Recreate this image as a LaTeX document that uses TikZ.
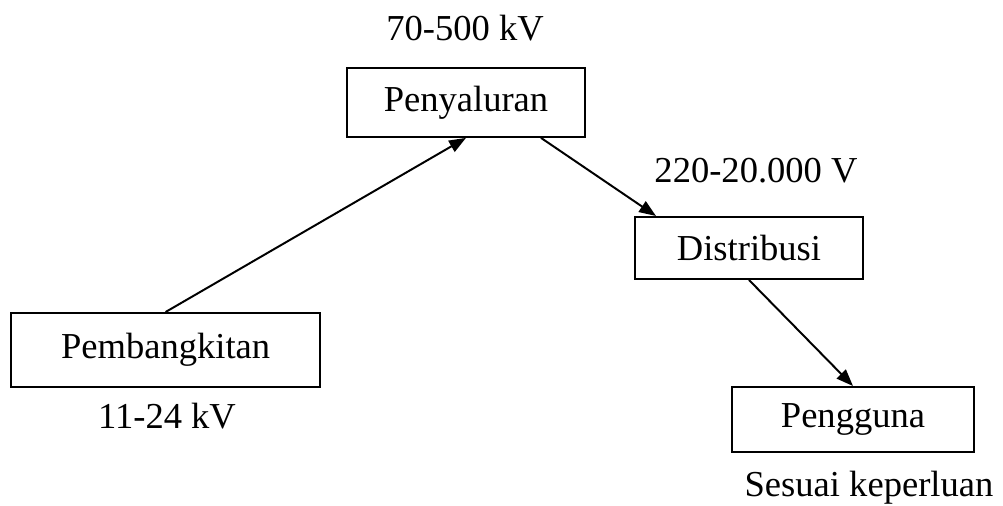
\documentclass[tikz,border=0pt]{standalone}
\usepackage{fontspec}
\setmainfont{Liberation Serif}
\usetikzlibrary{arrows.meta}

\tikzset{
    stage/.style={draw, line width=1.4pt, minimum width=#1, inner sep=0pt, font=\fontsize{26}{30}\selectfont},
    volt/.style={anchor=base, font=\fontsize{26}{30}\selectfont},
    flow/.style={line width=1.4pt, -{Triangle[length=12pt, width=9pt]}}
}

\begin{document}
\begin{tikzpicture}
\useasboundingbox (0,0) rectangle (25.075,12.65);

% Stages
\node[stage=7.725cm, minimum height=1.85cm] (pembangkitan) at (4.14,3.9) {Pembangkitan};
\node[stage=5.95cm, minimum height=1.725cm] (penyaluran) at (11.65,10.09) {Penyaluran};
\node[stage=5.7cm, minimum height=1.55cm] (distribusi) at (18.725,6.45) {Distribusi};
\node[stage=6.05cm, minimum height=1.625cm] (pengguna) at (21.325,2.1625) {Pengguna};

% Voltage labels
\node[volt] (vpenyaluran) at (11.625,11.64) {70-500 kV};
\node[volt] (vdistribusi) at (18.9,8.075) {220-20.000 V};
\node[volt] (vpembangkitan) at (4.175,1.925) {11-24 kV};
\node[volt] (vpengguna) at (21.725,0.225) {Sesuai keperluan};

% Flow of power
\draw[flow] (pembangkitan.north) -- (penyaluran.south);
\draw[flow] ([xshift=-1.125cm]penyaluran.south east) -- ([xshift=0.55cm]distribusi.north west);
\draw[flow] (distribusi.south) -- (pengguna.north);
\end{tikzpicture}
\end{document}
